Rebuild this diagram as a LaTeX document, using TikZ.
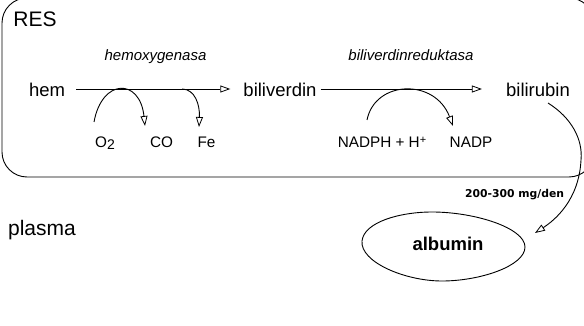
\documentclass[tikz,border=0pt]{standalone}
\usepackage{fontspec}
\setmainfont{Liberation Sans}
\newfontfamily\dejavu{DejaVu Sans}
\usetikzlibrary{arrows.meta,shapes.geometric}
\tikzset{
  lbl/.style={inner sep=0pt, anchor=base, font=\fontsize{18.5}{20}\selectfont},
  biglbl/.style={inner sep=0pt, anchor=base, font=\fontsize{21}{23}\selectfont},
  enz/.style={inner sep=0pt, anchor=base, font=\fontsize{15}{17}\selectfont\itshape},
  small/.style={inner sep=0pt, anchor=base, font=\fontsize{15.3}{17}\selectfont},
  arr/.style={line width=0.9pt, -{Triangle[open, length=10pt, width=7pt, line width=0.8pt]}},
  ln/.style={line width=0.9pt}
}
\begin{document}
\begin{tikzpicture}[x=1pt, y=-1pt]
\useasboundingbox (0,0) rectangle (584,326);
\clip (0,0) rectangle (584,326);
% RES compartment
\draw[ln, rounded corners=25pt] (2,-2) rectangle (594,177);
\node[biglbl] (res) at (35,26.7) {RES};
\node[biglbl] (plasma) at (42,235) {plasma};
% main metabolites
\node[lbl] (hem) at (47,97) {hem};
\node[lbl] (biliverdin) at (280,97) {biliverdin};
\node[lbl] (bilirubin) at (538,97) {bilirubin};
% enzymes
\node[enz] (hox) at (155.5,61) {hemoxygenasa};
\node[enz] (bvr) at (411,61) {biliverdinreduktasa};
% side products
\node[small] (o2) at (105,148) {O\raisebox{-1.8pt}{\fontsize{14}{14}\selectfont 2}};
\node[small] (co) at (161.5,148) {CO};
\node[small] (fe) at (206.5,148) {Fe};
\node[small] (nadph) at (382,148) {NADPH + H\raisebox{4.5pt}{\fontsize{11}{11}\selectfont +}};
\node[small] (nadp) at (471,148) {NADP};
% albumin
\node[inner sep=0pt, anchor=base, font=\fontsize{18.5}{20}\selectfont\bfseries] (albumin) at (448,251) {albumin};
\draw[ln] (362,241) .. controls (364,222) and (400,212) .. (432,212)
  .. controls (475,212) and (525,228) .. (525,247)
  .. controls (525,266) and (480,281) .. (442,281)
  .. controls (405,281) and (360,262) .. (362,241) -- cycle;
\node[inner sep=0pt, anchor=base, font=\dejavu\bfseries\fontsize{10.8}{12}\selectfont] (rate) at (514.5,197) {200-300 mg/den};
% main reaction arrows
\draw[arr] ([shift={(11,-8)}]hem.base east) -- ([shift={(-13,-8)}]biliverdin.base west);
\draw[arr] ([shift={(4,-8)}]biliverdin.base east) -- ([shift={(-24,-8)}]bilirubin.base west);
% side arrows
\coordinate (o2s) at (94,122);
\coordinate (cot) at (145,126);
\draw[arr] (o2s) .. controls (102,78) and (140,78) .. (cot);
\coordinate (fes) at (182,89);
\coordinate (fet) at (199,127);
\draw[arr] (fes) .. controls (195,89) and (200,105) .. (fet);
\coordinate (nas) at (367,120);
\coordinate (nat) at (453,126);
\draw[arr] (nas) .. controls (375,80) and (435,78) .. (nat);
% transport to albumin
\coordinate (brs) at (548,103);
\coordinate (mid) at (581,160);
\coordinate (albt) at (535,233);
\draw[arr] (brs) .. controls (572,118) and (583,140) .. (mid) .. controls (579,200) and (555,220) .. (albt);
\end{tikzpicture}
\end{document}
